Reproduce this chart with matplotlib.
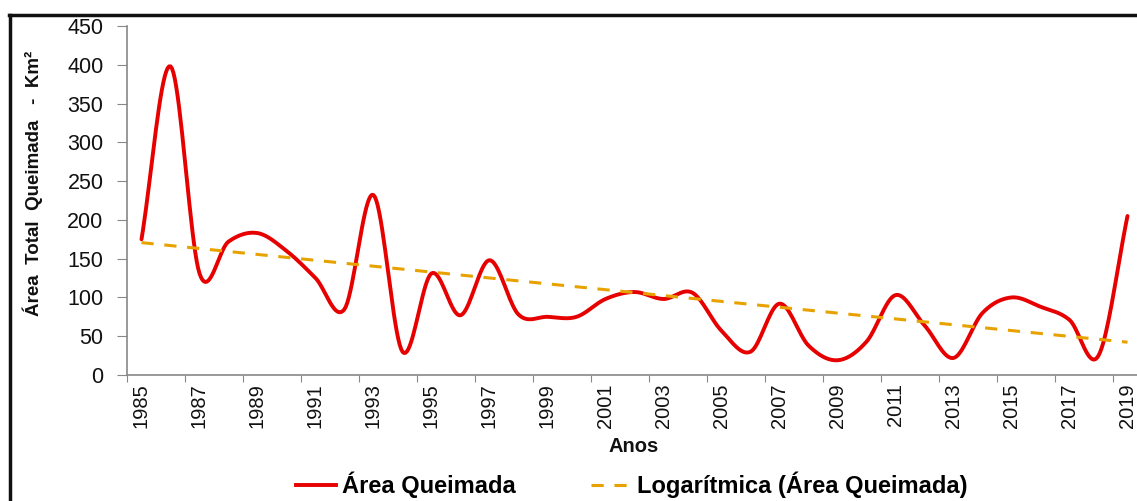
import numpy as np
import matplotlib.pyplot as plt
from matplotlib.lines import Line2D

plt.rcParams['font.family'] = ['Liberation Sans', 'DejaVu Sans']

# data
anos = list(range(1985, 2020))
area = [175, 398, 131, 172, 183, 160, 125, 85, 232, 30,
        131, 77, 148, 78, 75, 75, 98, 107, 98, 106,
        57, 30, 92, 38, 19, 43, 103, 64, 22, 80,
        100, 88, 71, 25, 205]


def catmull_rom(x, y, n=20):
	# smoothed line like the spreadsheet one
	x = np.asarray(x, float)
	y = np.asarray(y, float)
	px = np.concatenate([[2*x[0]-x[1]], x, [2*x[-1]-x[-2]]])
	py = np.concatenate([[2*y[0]-y[1]], y, [2*y[-1]-y[-2]]])
	xs, ys = [], []
	t = np.linspace(0, 1, n, endpoint=False)
	for i in range(1, len(px)-2):
		for p, out in ((px, xs), (py, ys)):
			p0, p1, p2, p3 = p[i-1], p[i], p[i+1], p[i+2]
			out.extend(0.5*((2*p1) + (-p0+p2)*t + (2*p0-5*p1+4*p2-p3)*t**2 + (-p0+3*p1-3*p2+p3)*t**3))
	xs.append(x[-1])
	ys.append(y[-1])
	return np.array(xs), np.array(ys)


idx = np.arange(len(anos))
sx, sy = catmull_rom(idx, area)

# logarithmic trend
a, b = np.polyfit(np.log(anos), area, 1)
trend = a*np.log(anos) + b

fig = plt.figure(figsize=(11.37, 5.01), dpi=100)
ax = fig.add_axes([127/1137, (501-375)/501, (1142-127)/1137, 349/501])

ax.plot(sx, sy, color='#e60000', lw=2.8, solid_capstyle='round', zorder=3)
ax.plot(idx, trend, color='#e8a200', lw=2.2, dashes=(4, 3.5), zorder=4)

ax.set_xlim(-0.5, len(anos)-0.5)
ax.set_ylim(0, 450)
ax.set_yticks(range(0, 451, 50))
ax.set_xticks(np.arange(-0.5, len(anos)-0.5, 2))
ax.set_xticklabels([])
ax.set_xticks(idx[::2], minor=True)
ax.set_xticklabels([str(v) for v in anos[::2]], minor=True, rotation=90)
ax.tick_params(axis='x', which='minor', length=0, pad=6, labelsize=14.5, labelcolor='#111111')
ax.tick_params(axis='x', which='major', length=5, color='#888888')
ax.tick_params(axis='y', length=7, color='#888888', labelsize=15.5, labelcolor='#111111', pad=10)
for s in ['top', 'right']:
	ax.spines[s].set_visible(False)
for s in ['left', 'bottom']:
	ax.spines[s].set_color('#888888')
	ax.spines[s].set_linewidth(1.2)

fig.text(33/1137, 1-183/501, 'Área  Total  Queimada   -  Km²', rotation=90, ha='center', va='center',
	fontsize=13.5, fontweight='bold', color='#111111')
fig.text(634/1137, 1-447/501, 'Anos', ha='center', va='center', fontsize=14.5, fontweight='bold', color='#111111')

handles = [Line2D([], [], color='#e60000', lw=2.8),
	Line2D([], [], color='#e8a200', lw=2.2, dashes=(4, 3.5))]
fig.legend(handles, ['Área Queimada', 'Logarítmica (Área Queimada)'], ncol=2, frameon=False,
	loc='center', bbox_to_anchor=(632/1137, 1-485/501), prop={'weight': 'bold', 'size': 17},
	handlelength=1.7, handletextpad=0.25, columnspacing=3.2)

# outer frame (cropped)
fig.add_artist(Line2D([9/1137, 1], [1-15/501, 1-15/501], color='#111111', lw=2.5))
fig.add_artist(Line2D([10/1137, 10/1137], [0, 1-15/501], color='#111111', lw=2.5))

fig.savefig('out.png', dpi=100)
